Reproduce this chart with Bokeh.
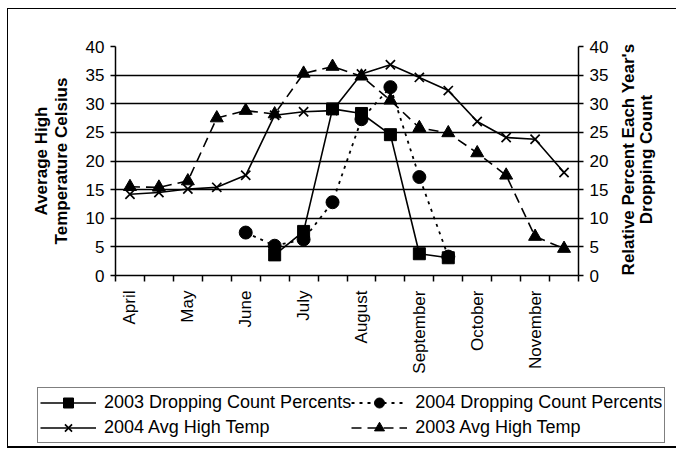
import math
from bokeh.plotting import figure
from bokeh.layouts import column, row
from bokeh.models import (Range1d, LinearAxis, SingleIntervalTicker, FixedTicker,
                          Legend, LegendItem, Label)
from bokeh.embed import file_html
from bokeh.resources import INLINE

nan = float("nan")

# 16 half-month slots, April .. November
slots = list(range(16))
month_labels = ["April", "May", "June", "July", "August", "September", "October", "November"]
month_slots = [0, 2, 4, 6, 8, 10, 12, 14]

temp_2004 = [14.2, 14.5, 15.1, 15.4, 17.5, 28.0, 28.6, 28.8, 35.2, 36.8, 34.6, 32.3, 26.9, 24.1, 23.8, 18.0]
temp_2003 = [15.5, 15.4, 16.5, 27.5, 28.8, 28.2, 35.3, 36.5, 34.8, 30.6, 25.8, 24.9, 21.4, 17.5, 6.8, 4.7]
drop_2003 = [nan, nan, nan, nan, nan, 3.6, 7.7, 29.1, 28.3, 24.6, 3.8, 3.1, nan, nan, nan, nan]
drop_2004 = [nan, nan, nan, nan, 7.5, 5.2, 6.3, 12.8, 27.3, 32.9, 17.2, 3.3, nan, nan, nan, nan]

series_labels = ["2003 Dropping Count Percents", "2004 Dropping Count Percents",
                 "2004 Avg High Temp", "2003 Avg High Temp"]
left_title = "Average High\nTemperature Celsius"
right_title = ["Relative Percent Each Year's", "Dropping Count"]

FONT = "Liberation Sans"
W_MAIN = 608
W_TITLE = 60
H_MAIN = 372

p = figure(width=W_MAIN, height=H_MAIN, x_range=Range1d(-0.5, 15.5), y_range=Range1d(0, 40),
           output_backend="svg", toolbar_location=None,
           min_border_left=107, min_border_right=38, min_border_top=37, min_border_bottom=106)
p.extra_y_ranges = {"pct": Range1d(0, 40)}
p.outline_line_color = None
p.background_fill_color = "white"
p.border_fill_color = "white"
p.frame_align = False

# grid
p.xgrid.visible = False
p.ygrid.ticker = SingleIntervalTicker(interval=5, num_minor_ticks=0)
p.ygrid.grid_line_color = "black"
p.ygrid.grid_line_width = 1.3

# left axis
ly = p.yaxis[0]
ly.ticker = SingleIntervalTicker(interval=5, num_minor_ticks=0)
ly.axis_label = left_title
ly.axis_label_text_font = FONT
ly.axis_label_text_font_size = "17px"
ly.axis_label_text_font_style = "bold"
ly.axis_label_text_color = "black"
ly.axis_label_text_line_height = 1.05
ly.axis_label_standoff = 12

# right axis (title drawn beside it)
ry = LinearAxis(y_range_name="pct", ticker=SingleIntervalTicker(interval=5, num_minor_ticks=0))
p.add_layout(ry, "right")

for ax in (ly, ry):
    ax.axis_line_color = "black"
    ax.axis_line_width = 1.5
    ax.major_tick_out = 5
    ax.major_tick_in = 0
    ax.major_tick_line_color = "black"
    ax.major_tick_line_width = 1.5
    ax.minor_tick_line_color = None
    ax.major_label_text_font = FONT
    ax.major_label_text_font_size = "17px"
    ax.major_label_text_color = "black"
    ax.major_label_standoff = 6

# bottom axis
bx = p.xaxis[0]
bx.ticker = FixedTicker(ticks=month_slots, minor_ticks=[s - 0.5 for s in slots] + [slots[-1] + 0.5])
bx.major_label_overrides = {s: m for s, m in zip(month_slots, month_labels)}
bx.major_label_orientation = math.pi / 2
bx.major_tick_in = 0
bx.major_tick_out = 0
bx.minor_tick_in = 0
bx.minor_tick_out = 6
bx.minor_tick_line_color = "black"
bx.minor_tick_line_width = 1.5
bx.axis_line_color = "black"
bx.axis_line_width = 1.5
bx.major_label_text_font = FONT
bx.major_label_text_font_size = "17px"
bx.major_label_text_color = "black"
bx.major_label_standoff = 9


def draw(fig, extra=True):
    kw = {"y_range_name": "pct"} if extra else {}
    r = []
    r.append((fig.line(slots, drop_2003, line_color="black", line_width=1.6, **kw),
              fig.scatter(slots, drop_2003, marker="square", size=12, color="black", **kw)))
    r.append((fig.line(slots, drop_2004, line_color="black", line_width=1.8, line_dash="3 5", **kw),
              fig.scatter(slots, drop_2004, marker="circle", size=13, color="black", **kw)))
    r.append((fig.line(slots, temp_2004, line_color="black", line_width=1.6),
              fig.scatter(slots, temp_2004, marker="x", size=13, line_color="black", line_width=1.7)))
    r.append((fig.line(slots, temp_2003, line_color="black", line_width=1.6, line_dash="10 6"),
              fig.scatter(slots, temp_2003, marker="triangle", size=13, color="black")))
    return r


draw(p)

# right-hand axis title panel
t = figure(width=W_TITLE, height=H_MAIN, x_range=Range1d(0, 1), y_range=Range1d(0, 1),
           output_backend="svg", toolbar_location=None, min_border=0,
           x_axis_location=None, y_axis_location=None)
t.grid.visible = False
t.outline_line_color = None
t.background_fill_color = "white"
t.border_fill_color = "white"
t.frame_align = False
for i, txt in enumerate(right_title):
    t.add_layout(Label(x=12 + 18 * i, y=H_MAIN - 150, x_units="screen", y_units="screen",
                       text=txt, angle=math.pi / 2, text_align="center", text_baseline="middle",
                       text_font=FONT, text_font_size="17px", text_font_style="bold",
                       text_color="black"))

# legend panel (series drawn out of view, only the legend shows)
q = figure(width=W_MAIN + W_TITLE, height=65, x_range=Range1d(-200, -199), y_range=Range1d(-200, -199),
           output_backend="svg", toolbar_location=None, min_border=0,
           x_axis_location=None, y_axis_location=None)
q.extra_y_ranges = {"pct": Range1d(-200, -199)}
q.grid.visible = False
q.outline_line_color = None
q.background_fill_color = "white"
q.border_fill_color = "white"
q.frame_align = False
rs = draw(q)

legend = Legend(items=[LegendItem(label=lab, renderers=list(rr)) for lab, rr in zip(series_labels, rs)],
                location=(29, 3), orientation="horizontal", ncols=2)
legend.border_line_color = "black"
legend.border_line_width = 1
legend.background_fill_color = "white"
legend.background_fill_alpha = 1
legend.padding = 2
legend.spacing = 0
legend.margin = 0
legend.glyph_width = 56
legend.glyph_height = 25
legend.label_height = 20
legend.label_standoff = 8
legend.label_text_font = FONT
legend.label_text_font_size = "18px"
legend.label_text_color = "black"
q.add_layout(legend)

page = column(row(p, t, spacing=0), q, spacing=0,
              styles={"border-left": "1px solid black", "border-top": "1px solid black",
                      "border-bottom": "2px solid black", "margin-left": "7px", "margin-top": "8px"})

open("out.html", "w").write(file_html(page, INLINE))
